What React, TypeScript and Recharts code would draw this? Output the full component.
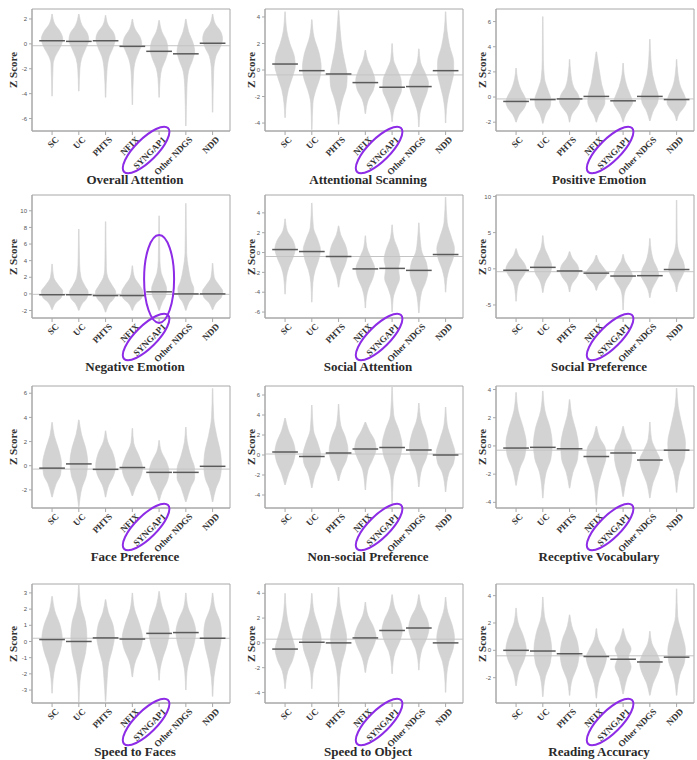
import {
  ComposedChart,
  Area,
  XAxis,
  YAxis,
  ReferenceLine,
  ReferenceArea,
  ReferenceDot,
} from "recharts";

const groups = ["SC", "UC", "PHTS", "NFIX", "SYNGAP1", "Other NDGS", "NDD"];
const groupTicks = [0, 1, 2, 3, 4, 5, 6];

// every violin is a list of [z, half width in group units], read top to bottom
const overallViolins = [
  [[2.4, 0.01], [1.6, 0.1], [1.0, 0.3], [0.4, 0.4], [-0.3, 0.3], [-1.0, 0.12], [-1.6, 0.04], [-4.2, 0.01]],
  [[2.4, 0.01], [1.5, 0.12], [0.8, 0.33], [0.3, 0.37], [-0.4, 0.25], [-1.2, 0.1], [-2.0, 0.04], [-3.8, 0.01]],
  [[2.3, 0.01], [1.5, 0.1], [0.9, 0.3], [0.4, 0.36], [-0.3, 0.28], [-1.0, 0.14], [-2.2, 0.05], [-4.3, 0.01]],
  [[2.0, 0.01], [1.2, 0.1], [0.5, 0.3], [0.0, 0.35], [-0.6, 0.25], [-1.3, 0.12], [-2.5, 0.04], [-4.9, 0.01]],
  [[1.9, 0.01], [1.0, 0.1], [0.2, 0.28], [-0.5, 0.33], [-1.2, 0.25], [-2.0, 0.1], [-2.8, 0.04], [-4.3, 0.01]],
  [[2.0, 0.01], [1.0, 0.1], [0.0, 0.28], [-0.6, 0.33], [-1.3, 0.25], [-2.2, 0.1], [-3.5, 0.04], [-6.6, 0.01]],
  [[2.4, 0.01], [1.6, 0.1], [1.0, 0.3], [0.4, 0.37], [-0.3, 0.28], [-1.0, 0.12], [-2.2, 0.04], [-5.5, 0.01]],
];
const overallMedians = [0.25, 0.2, 0.25, -0.2, -0.6, -0.8, 0.05];

const scanViolins = [
  [[4.4, 0.01], [3.0, 0.06], [2.0, 0.18], [1.0, 0.35], [0.3, 0.38], [-0.5, 0.28], [-1.5, 0.12], [-2.5, 0.04], [-3.6, 0.01]],
  [[3.8, 0.01], [2.5, 0.08], [1.2, 0.28], [0.2, 0.35], [-0.6, 0.3], [-1.5, 0.15], [-2.5, 0.04], [-4.5, 0.01]],
  [[4.5, 0.01], [3.0, 0.06], [1.5, 0.14], [0.5, 0.24], [-0.5, 0.32], [-1.2, 0.3], [-2.2, 0.15], [-3.2, 0.04], [-4.1, 0.01]],
  [[1.5, 0.01], [0.8, 0.08], [0.0, 0.25], [-0.8, 0.36], [-1.5, 0.3], [-2.2, 0.12], [-3.3, 0.01]],
  [[2.0, 0.01], [0.8, 0.05], [0.0, 0.2], [-0.8, 0.34], [-1.5, 0.35], [-2.2, 0.22], [-3.0, 0.07], [-3.9, 0.01]],
  [[1.6, 0.01], [0.6, 0.06], [-0.3, 0.25], [-1.0, 0.36], [-1.7, 0.3], [-2.5, 0.15], [-3.3, 0.04], [-4.3, 0.01]],
  [[4.4, 0.01], [3.0, 0.05], [1.8, 0.15], [0.6, 0.3], [-0.2, 0.3], [-1.0, 0.22], [-2.0, 0.1], [-3.0, 0.03], [-4.0, 0.01]],
];
const scanMedians = [0.45, -0.05, -0.3, -0.95, -1.3, -1.25, -0.05];

const posViolins = [
  [[2.3, 0.01], [1.5, 0.05], [0.6, 0.18], [0.0, 0.33], [-0.4, 0.38], [-0.9, 0.3], [-1.4, 0.12], [-2.0, 0.01]],
  [[6.4, 0.01], [3.0, 0.02], [1.5, 0.06], [0.5, 0.2], [-0.2, 0.3], [-0.7, 0.28], [-1.3, 0.12], [-2.1, 0.01]],
  [[3.0, 0.01], [2.0, 0.04], [0.8, 0.15], [0.2, 0.32], [-0.3, 0.38], [-0.8, 0.28], [-1.3, 0.1], [-2.0, 0.01]],
  [[3.6, 0.01], [2.8, 0.06], [2.0, 0.12], [1.0, 0.2], [0.2, 0.3], [-0.4, 0.32], [-1.0, 0.22], [-1.5, 0.08], [-2.0, 0.01]],
  [[2.7, 0.01], [1.8, 0.04], [0.8, 0.15], [0.0, 0.3], [-0.4, 0.36], [-0.9, 0.25], [-1.4, 0.1], [-2.0, 0.01]],
  [[4.6, 0.01], [3.0, 0.04], [1.8, 0.1], [0.8, 0.22], [0.0, 0.32], [-0.5, 0.28], [-1.0, 0.15], [-1.9, 0.01]],
  [[3.0, 0.01], [2.0, 0.04], [0.8, 0.15], [0.1, 0.3], [-0.4, 0.36], [-0.9, 0.25], [-1.3, 0.1], [-1.9, 0.01]],
];
const posMedians = [-0.35, -0.2, -0.15, 0.05, -0.3, 0.05, -0.2];

const negViolins = [
  [[3.6, 0.01], [2.0, 0.06], [1.0, 0.25], [0.3, 0.4], [-0.4, 0.35], [-1.0, 0.15], [-1.9, 0.01]],
  [[7.8, 0.01], [3.5, 0.03], [2.0, 0.08], [1.0, 0.22], [0.2, 0.35], [-0.5, 0.3], [-1.2, 0.12], [-2.0, 0.01]],
  [[8.7, 0.01], [3.0, 0.03], [2.0, 0.08], [1.0, 0.25], [0.2, 0.38], [-0.5, 0.32], [-1.2, 0.14], [-2.2, 0.01]],
  [[3.4, 0.01], [2.0, 0.08], [1.0, 0.28], [0.2, 0.4], [-0.5, 0.35], [-1.1, 0.15], [-2.0, 0.01]],
  [[9.4, 0.01], [4.0, 0.03], [2.5, 0.08], [1.5, 0.2], [0.6, 0.28], [-0.2, 0.25], [-1.0, 0.12], [-2.0, 0.01]],
  [[10.9, 0.01], [5.0, 0.03], [3.0, 0.1], [1.5, 0.2], [0.6, 0.3], [-0.3, 0.26], [-1.0, 0.12], [-2.0, 0.01]],
  [[3.7, 0.01], [2.0, 0.06], [1.0, 0.25], [0.3, 0.38], [-0.4, 0.33], [-1.0, 0.15], [-1.9, 0.01]],
];
const negMedians = [-0.1, -0.1, -0.2, -0.2, 0.25, 0.0, 0.0];

const socAttViolins = [
  [[3.4, 0.01], [2.2, 0.08], [1.2, 0.3], [0.4, 0.38], [-0.5, 0.3], [-1.5, 0.14], [-2.5, 0.05], [-4.2, 0.01]],
  [[5.0, 0.01], [2.5, 0.06], [1.3, 0.22], [0.3, 0.32], [-0.8, 0.25], [-1.8, 0.12], [-3.0, 0.04], [-5.0, 0.01]],
  [[2.7, 0.01], [1.8, 0.08], [0.8, 0.25], [-0.2, 0.33], [-1.2, 0.25], [-2.2, 0.1], [-3.5, 0.01]],
  [[1.7, 0.01], [0.5, 0.06], [-0.6, 0.22], [-1.6, 0.35], [-2.6, 0.28], [-3.6, 0.12], [-4.5, 0.04], [-5.6, 0.01]],
  [[2.8, 0.01], [1.5, 0.06], [0.3, 0.22], [-0.7, 0.3], [-1.6, 0.24], [-2.6, 0.28], [-3.6, 0.15], [-4.6, 0.04], [-6.0, 0.01]],
  [[3.0, 0.01], [1.3, 0.05], [0.0, 0.12], [-1.0, 0.28], [-2.0, 0.33], [-3.0, 0.25], [-4.0, 0.1], [-6.1, 0.01]],
  [[5.6, 0.01], [3.0, 0.06], [1.5, 0.22], [0.4, 0.33], [-0.6, 0.28], [-1.6, 0.14], [-2.6, 0.05], [-4.0, 0.01]],
];
const socAttMedians = [0.3, 0.1, -0.4, -1.65, -1.6, -1.8, -0.2];

const socPrefViolins = [
  [[2.8, 0.01], [1.8, 0.1], [0.8, 0.3], [0.0, 0.38], [-0.8, 0.3], [-1.8, 0.12], [-3.0, 0.04], [-4.5, 0.01]],
  [[4.6, 0.01], [3.0, 0.06], [1.6, 0.22], [0.4, 0.33], [-0.6, 0.28], [-1.6, 0.12], [-3.3, 0.01]],
  [[2.4, 0.01], [1.5, 0.1], [0.5, 0.3], [-0.3, 0.35], [-1.1, 0.28], [-2.0, 0.1], [-3.2, 0.01]],
  [[1.9, 0.01], [1.0, 0.1], [0.0, 0.3], [-0.6, 0.4], [-1.3, 0.3], [-2.0, 0.12], [-3.0, 0.01]],
  [[2.0, 0.01], [1.0, 0.08], [0.0, 0.25], [-1.0, 0.35], [-1.9, 0.25], [-2.8, 0.1], [-4.0, 0.03], [-5.7, 0.01]],
  [[4.2, 0.01], [2.5, 0.05], [1.0, 0.15], [0.0, 0.28], [-0.9, 0.33], [-1.8, 0.22], [-2.8, 0.08], [-4.0, 0.01]],
  [[9.5, 0.01], [4.0, 0.02], [2.2, 0.1], [1.0, 0.25], [0.0, 0.3], [-0.9, 0.22], [-2.0, 0.07], [-3.2, 0.01]],
];
const socPrefMedians = [-0.2, 0.2, -0.3, -0.6, -1.0, -0.95, -0.1];

const faceViolins = [
  [[3.6, 0.01], [2.5, 0.08], [1.3, 0.25], [0.2, 0.35], [-0.7, 0.32], [-1.5, 0.15], [-2.6, 0.01]],
  [[3.8, 0.01], [2.6, 0.1], [1.5, 0.25], [0.3, 0.33], [-0.8, 0.28], [-1.8, 0.12], [-3.4, 0.01]],
  [[2.9, 0.01], [2.0, 0.08], [1.0, 0.28], [0.0, 0.37], [-0.8, 0.3], [-1.6, 0.12], [-2.6, 0.01]],
  [[3.1, 0.01], [1.9, 0.05], [0.8, 0.25], [-0.2, 0.38], [-1.0, 0.3], [-1.8, 0.12], [-2.5, 0.01]],
  [[2.1, 0.01], [1.2, 0.08], [0.3, 0.28], [-0.5, 0.37], [-1.3, 0.3], [-2.1, 0.12], [-2.9, 0.01]],
  [[3.2, 0.01], [2.0, 0.05], [0.8, 0.18], [-0.3, 0.33], [-1.0, 0.33], [-1.8, 0.18], [-3.0, 0.01]],
  [[6.4, 0.01], [4.0, 0.04], [2.5, 0.15], [1.0, 0.3], [0.0, 0.33], [-1.0, 0.28], [-1.9, 0.12], [-3.0, 0.01]],
];
const faceMedians = [-0.2, 0.15, -0.3, -0.15, -0.55, -0.55, -0.05];

const nonSocViolins = [
  [[3.7, 0.01], [2.5, 0.12], [1.2, 0.32], [0.3, 0.38], [-0.8, 0.3], [-1.8, 0.14], [-3.0, 0.01]],
  [[5.0, 0.01], [2.5, 0.06], [1.2, 0.22], [0.0, 0.33], [-0.8, 0.3], [-1.8, 0.14], [-3.3, 0.01]],
  [[5.1, 0.01], [3.0, 0.08], [1.8, 0.25], [0.5, 0.35], [-0.6, 0.28], [-1.5, 0.12], [-2.6, 0.01]],
  [[3.3, 0.01], [2.4, 0.15], [1.5, 0.34], [0.6, 0.4], [-0.4, 0.28], [-1.5, 0.1], [-3.5, 0.01]],
  [[6.8, 0.01], [4.0, 0.06], [2.5, 0.25], [1.0, 0.37], [-0.2, 0.3], [-1.3, 0.14], [-2.5, 0.04], [-5.0, 0.01]],
  [[5.2, 0.01], [3.5, 0.08], [2.2, 0.25], [0.8, 0.35], [-0.3, 0.28], [-1.3, 0.12], [-3.2, 0.01]],
  [[4.8, 0.01], [3.0, 0.06], [1.5, 0.22], [0.2, 0.35], [-0.8, 0.3], [-1.8, 0.12], [-3.7, 0.01]],
];
const nonSocMedians = [0.3, -0.15, 0.2, 0.6, 0.75, 0.5, 0.0];

const vocabViolins = [
  [[3.8, 0.01], [2.5, 0.08], [1.2, 0.28], [0.2, 0.38], [-0.7, 0.33], [-1.6, 0.14], [-2.8, 0.01]],
  [[3.9, 0.01], [2.5, 0.08], [1.2, 0.28], [0.1, 0.35], [-0.9, 0.3], [-1.9, 0.12], [-3.7, 0.01]],
  [[3.3, 0.01], [2.2, 0.08], [1.0, 0.25], [0.0, 0.33], [-0.9, 0.3], [-1.9, 0.12], [-3.0, 0.01]],
  [[1.4, 0.01], [0.6, 0.12], [-0.2, 0.34], [-0.8, 0.36], [-1.6, 0.25], [-2.6, 0.1], [-4.2, 0.01]],
  [[1.4, 0.01], [0.6, 0.12], [-0.1, 0.3], [-0.6, 0.33], [-1.4, 0.28], [-2.4, 0.12], [-3.6, 0.01]],
  [[1.7, 0.01], [0.5, 0.06], [-0.4, 0.25], [-1.0, 0.38], [-1.7, 0.3], [-2.6, 0.12], [-3.7, 0.01]],
  [[4.1, 0.01], [2.8, 0.06], [1.5, 0.2], [0.2, 0.33], [-0.8, 0.3], [-1.8, 0.12], [-3.3, 0.01]],
];
const vocabMedians = [-0.15, -0.1, -0.2, -0.75, -0.5, -1.0, -0.3];

const faceSpeedViolins = [
  [[2.8, 0.01], [1.9, 0.1], [1.0, 0.3], [0.2, 0.38], [-0.6, 0.3], [-1.5, 0.12], [-2.3, 0.04], [-3.2, 0.01]],
  [[3.5, 0.01], [2.2, 0.08], [1.2, 0.25], [0.3, 0.3], [-0.7, 0.25], [-1.6, 0.12], [-2.5, 0.04], [-3.8, 0.01]],
  [[2.6, 0.01], [1.8, 0.1], [1.0, 0.28], [0.3, 0.33], [-0.5, 0.25], [-1.3, 0.12], [-2.3, 0.06], [-3.7, 0.01]],
  [[3.0, 0.01], [2.0, 0.08], [1.0, 0.28], [0.2, 0.38], [-0.5, 0.3], [-1.2, 0.12], [-2.2, 0.01]],
  [[3.1, 0.01], [2.2, 0.1], [1.3, 0.3], [0.6, 0.38], [-0.2, 0.3], [-1.0, 0.14], [-1.7, 0.04], [-2.4, 0.01]],
  [[3.0, 0.01], [2.1, 0.08], [1.3, 0.28], [0.6, 0.37], [-0.2, 0.3], [-1.0, 0.15], [-1.9, 0.04], [-3.0, 0.01]],
  [[3.0, 0.01], [2.0, 0.1], [1.2, 0.28], [0.5, 0.33], [-0.3, 0.28], [-1.2, 0.15], [-2.2, 0.05], [-3.4, 0.01]],
];
const faceSpeedMedians = [0.12, 0.0, 0.22, 0.15, 0.5, 0.55, 0.2];

const objSpeedViolins = [
  [[4.0, 0.01], [2.5, 0.05], [1.2, 0.16], [0.2, 0.3], [-0.5, 0.37], [-1.4, 0.28], [-2.3, 0.1], [-3.7, 0.01]],
  [[4.0, 0.01], [2.5, 0.08], [1.3, 0.25], [0.3, 0.35], [-0.6, 0.3], [-1.6, 0.14], [-2.5, 0.04], [-3.7, 0.01]],
  [[4.5, 0.01], [3.0, 0.06], [1.6, 0.2], [0.4, 0.3], [-0.6, 0.25], [-1.6, 0.12], [-2.8, 0.04], [-4.8, 0.01]],
  [[3.3, 0.01], [2.2, 0.1], [1.2, 0.32], [0.5, 0.4], [-0.3, 0.3], [-1.2, 0.12], [-2.4, 0.01]],
  [[3.9, 0.01], [2.8, 0.1], [1.8, 0.3], [1.0, 0.38], [0.2, 0.3], [-0.7, 0.12], [-1.5, 0.04], [-2.5, 0.01]],
  [[3.9, 0.01], [2.9, 0.1], [2.0, 0.3], [1.2, 0.38], [0.4, 0.3], [-0.5, 0.12], [-1.3, 0.04], [-2.2, 0.01]],
  [[3.7, 0.01], [2.5, 0.08], [1.4, 0.25], [0.4, 0.33], [-0.5, 0.28], [-1.5, 0.12], [-2.6, 0.04], [-4.0, 0.01]],
];
const objSpeedMedians = [-0.5, 0.05, 0.0, 0.4, 1.0, 1.2, 0.0];

const readViolins = [
  [[3.1, 0.01], [2.0, 0.08], [1.0, 0.28], [0.1, 0.38], [-0.7, 0.3], [-1.5, 0.12], [-2.6, 0.01]],
  [[3.9, 0.01], [2.5, 0.06], [1.2, 0.25], [0.1, 0.33], [-0.9, 0.28], [-1.9, 0.1], [-3.4, 0.01]],
  [[2.6, 0.01], [1.8, 0.08], [0.7, 0.28], [-0.3, 0.35], [-1.2, 0.28], [-2.1, 0.1], [-3.3, 0.01]],
  [[1.6, 0.01], [0.8, 0.08], [0.0, 0.28], [-0.5, 0.38], [-1.2, 0.3], [-2.1, 0.12], [-3.5, 0.01]],
  [[1.6, 0.01], [0.8, 0.12], [0.1, 0.3], [-0.5, 0.2], [-1.2, 0.3], [-2.0, 0.15], [-3.2, 0.01]],
  [[1.4, 0.01], [0.5, 0.08], [-0.3, 0.28], [-0.9, 0.38], [-1.6, 0.3], [-2.4, 0.12], [-3.3, 0.01]],
  [[4.5, 0.01], [2.5, 0.04], [1.2, 0.2], [0.0, 0.33], [-0.8, 0.3], [-1.8, 0.12], [-3.3, 0.01]],
];
const readMedians = [0.0, -0.05, -0.25, -0.45, -0.65, -0.85, -0.5];

const titles = [
  "Overall Attention", "Attentional Scanning", "Positive Emotion",
  "Negative Emotion", "Social Attention", "Social Preference",
  "Face Preference", "Non-social Preference", "Receptive Vocabulary",
  "Speed to Faces", "Speed to Object", "Reading Accuracy",
];
const violinSets = [
  overallViolins, scanViolins, posViolins,
  negViolins, socAttViolins, socPrefViolins,
  faceViolins, nonSocViolins, vocabViolins,
  faceSpeedViolins, objSpeedViolins, readViolins,
];
const medianSets = [
  overallMedians, scanMedians, posMedians,
  negMedians, socAttMedians, socPrefMedians,
  faceMedians, nonSocMedians, vocabMedians,
  faceSpeedMedians, objSpeedMedians, readMedians,
];
const grandMeans = [-0.15, -0.37, -0.15, -0.05, -0.4, -0.4, -0.28, 0.1, -0.3, 0.2, 0.3, -0.4];
const yDomains = [
  [-7, 2.8], [-4.6, 4.6], [-2.7, 7],
  [-2.9, 11.9], [-6.6, 5.8], [-6.8, 10.2],
  [-3.5, 6.6], [-5.3, 6.9], [-4.4, 4.25],
  [-3.8, 3.55], [-4.85, 4.75], [-3.85, 4.85],
];
const yTicks = [
  [-6, -4, -2, 0, 2], [-4, -2, 0, 2, 4], [-2, 0, 2, 4, 6],
  [-2, 0, 2, 4, 6, 8, 10], [-6, -4, -2, 0, 2, 4], [-5, 0, 5, 10],
  [-2, 0, 2, 4, 6], [-4, -2, 0, 2, 4, 6], [-4, -2, 0, 2, 4],
  [-3, -2, -1, 0, 1, 2, 3], [-4, -2, 0, 2, 4], [-2, 0, 2, 4],
];

// layout of the 4x3 grid (page pixels)
const colLeft = [32, 265, 496];
const labelGap = [19, 14, 14];
const rowTop = [9, 195, 386, 584];
const rowBottom = [131, 318, 508, 703];
const PLOT_W = 198;
const AXIS_W = 30;
const X_DOMAIN = [-0.75, 6.65];
const PURPLE = "#8d2be6";
const SERIF = "'Liberation Serif', 'Times New Roman', serif";

function GroupTick(props: any) {
  const { x, y, payload } = props;
  const label = groups[payload.value];
  return (
    <g transform={`translate(${x},${y})`}>
      <text
        x={5}
        y={1}
        dy="0.35em"
        transform="rotate(-45 5 1)"
        textAnchor="end"
        fontFamily={SERIF}
        fontWeight="bold"
        fontSize={9}
        fill="#333"
      >
        {label}
      </text>
      {payload.value === 4 && (
        <ellipse
          cx={-13}
          cy={13}
          rx={31}
          ry={11}
          transform="rotate(-45 -13 13)"
          fill="none"
          stroke={PURPLE}
          strokeWidth={2}
        />
      )}
    </g>
  );
}

function Panel({ idx }: { idx: number }) {
  const row = Math.floor(idx / 3);
  const col = idx % 3;
  const top = rowTop[row];
  const plotH = rowBottom[row] - top;
  const left = colLeft[col];
  const dom = yDomains[idx];
  const medians = medianSets[idx];

  return (
    <>
      <div style={{ position: "absolute", left: left - AXIS_W, top: top - 5 }}>
        <ComposedChart
          width={AXIS_W + PLOT_W + 4}
          height={5 + plotH + 45}
          layout="vertical"
          margin={{ top: 5, right: 4, bottom: 0, left: 0 }}
        >
          <XAxis
            type="number"
            domain={X_DOMAIN}
            ticks={groupTicks}
            allowDataOverflow
            height={45}
            tickSize={4}
            tickMargin={2}
            tick={<GroupTick />}
            axisLine={{ stroke: "#a8a8a8" }}
            tickLine={{ stroke: "#a8a8a8" }}
          />
          <YAxis
            type="number"
            dataKey="z"
            domain={dom}
            ticks={yTicks[idx]}
            reversed
            allowDataOverflow
            width={AXIS_W}
            tickSize={3}
            tick={{ fontSize: 6, fill: "#555", fontFamily: "'Liberation Sans', Arial, sans-serif" }}
            axisLine={{ stroke: "#a8a8a8" }}
            tickLine={{ stroke: "#a8a8a8" }}
          />
          <ReferenceArea
            x1={X_DOMAIN[0]}
            x2={X_DOMAIN[1]}
            y1={dom[0]}
            y2={dom[1]}
            fill="none"
            stroke="#a8a8a8"
            strokeWidth={1}
          />
          {violinSets[idx].map((v, i) => (
            <Area
              key={i}
              data={v.map(([z, w]) => ({ z, band: [i - w, i + w] }))}
              dataKey="band"
              type="monotone"
              fill="#d3d3d3"
              fillOpacity={1}
              stroke="#d0d0d0"
              strokeWidth={0.6}
              dot={false}
              activeDot={false}
              isAnimationActive={false}
            />
          ))}
          <ReferenceLine y={grandMeans[idx]} stroke="#c4c4c4" strokeWidth={1} />
          {medians.map((m, i) => (
            <ReferenceLine
              key={"m" + i}
              segment={[
                { x: i - 0.48, y: m },
                { x: i + 0.48, y: m },
              ]}
              stroke="#5a5a5a"
              strokeWidth={1.5}
            />
          ))}
          {idx === 3 && (
            <ReferenceDot
              x={4}
              y={1.8}
              ifOverflow="visible"
              shape={(p: any) => (
                <ellipse cx={p.cx} cy={p.cy} rx={15} ry={44} fill="none" stroke={PURPLE} strokeWidth={2} />
              )}
            />
          )}
        </ComposedChart>
      </div>
      <div
        style={{
          position: "absolute",
          left: left - labelGap[col],
          top: top + plotH / 2,
          transform: "translate(-50%, -50%) rotate(-90deg)",
          fontFamily: SERIF,
          fontWeight: "bold",
          fontSize: 11,
          color: "#333",
          whiteSpace: "nowrap",
        }}
      >
        Z Score
      </div>
      <div
        style={{
          position: "absolute",
          left: left + PLOT_W / 2 + 4,
          top: rowBottom[row] + 49,
          transform: "translate(-50%, -50%)",
          fontFamily: SERIF,
          fontWeight: "bold",
          fontSize: 13,
          color: "#2a2a2a",
          whiteSpace: "nowrap",
        }}
      >
        {titles[idx]}
      </div>
    </>
  );
}

export default function App() {
  return (
    <div
      style={{
        position: "absolute",
        left: 0,
        top: 0,
        width: 697,
        height: 760,
        background: "#fff",
        overflow: "hidden",
      }}
    >
      {titles.map((_, i) => (
        <Panel key={i} idx={i} />
      ))}
    </div>
  );
}
